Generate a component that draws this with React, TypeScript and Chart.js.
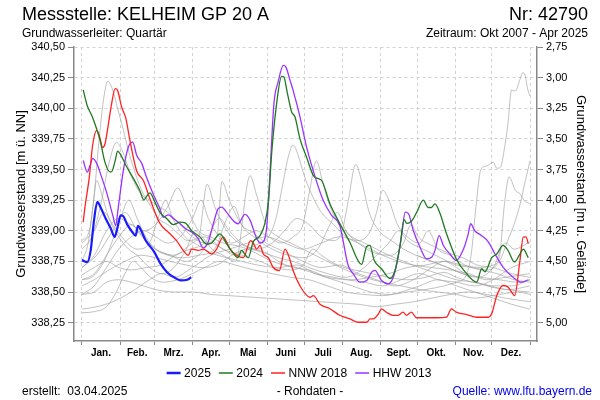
import React, { useEffect, useRef } from 'react';
import { Chart, registerables } from 'chart.js';

Chart.register(...registerables);

// ---- axes / labels ----
const monthStartDays = [0, 31, 59, 90, 120, 151, 181, 212, 243, 273, 304, 334, 365];
const monthLabels = ['Jan.', 'Feb.', 'Mrz.', 'Apr.', 'Mai', 'Juni', 'Juli', 'Aug.', 'Sept.', 'Okt.', 'Nov.', 'Dez.'];
const levelTicks = [338.25, 338.5, 338.75, 339.0, 339.25, 339.5, 339.75, 340.0, 340.25, 340.5];
const depthTicks = [2.75, 3.0, 3.25, 3.5, 3.75, 4.0, 4.25, 4.5, 4.75, 5.0];
const groundLevel = 343.25; // m ü. NN
const levelMin = 338.1;
const levelMax = 340.5;

// ---- highlighted series ----
const y2025Days = [0, 4.3, 7.1, 9.8, 12.5, 15.2, 19.3, 23.4, 26.6, 28.8, 31.5, 33.5, 36.9, 41, 43.7, 45.6, 47.8, 51.9, 58.7, 64.1, 69.5, 75, 80.4, 85.8, 89];
const y2025Vals = [338.76, 338.745, 338.84, 339.085, 339.235, 339.19, 339.1, 339.02, 338.95, 339.02, 339.126, 339.12, 339.05, 338.99, 338.96, 339.04, 339.01, 338.92, 338.83, 338.73, 338.66, 338.62, 338.595, 338.6, 338.62];

const y2024Days = [1, 4.3, 8, 14.7, 18.7, 22.8, 24, 27, 29, 31, 36.5, 42, 47, 50.5, 52.6, 55.4, 58.7, 63.5, 69, 74.4, 80, 84, 89.3, 96, 101.6, 105.6, 112.4, 118, 123, 127, 130, 132.7, 135.4, 139.5, 145, 149, 152, 154.5, 158.6, 162.6, 164.5, 167.2, 170.8, 173.5, 177.6, 183, 188.5, 192.6, 195.3, 202, 210, 218, 227.8, 231.9, 234.5, 238, 244, 250.9, 255, 259, 262.4, 264.6, 268.6, 272.7, 278, 282, 284.7, 287.6, 291.7, 297, 305, 313.4, 321.6, 325.6, 328.3, 333.8, 337.9, 343, 347, 352.5, 356.8, 359.5, 363.6];
const y2024Vals = [340.15, 340.02, 339.94, 339.74, 339.56, 339.48, 339.48, 339.57, 339.65, 339.63, 339.52, 339.425, 339.33, 339.25, 339.28, 339.31, 339.25, 339.15, 339.1, 339.05, 339.07, 339.065, 339.0, 338.95, 338.89, 338.9, 338.975, 338.89, 338.82, 338.78, 338.84, 338.81, 338.78, 338.91, 338.96, 339.06, 339.25, 339.63, 340.04, 340.26, 340.255, 340.13, 339.97, 339.93, 339.75, 339.6, 339.45, 339.425, 339.41, 339.22, 339.06, 338.91, 338.725, 338.87, 338.88, 338.76, 338.69, 338.61, 338.675, 338.87, 339.09, 339.06, 339.08, 339.15, 339.25, 339.19, 339.19, 339.22, 339.14, 338.975, 338.77, 338.65, 338.58, 338.69, 338.665, 338.78, 338.81, 338.88, 338.84, 338.745, 338.81, 338.85, 338.78];

const nnw2018Days = [1, 2.4, 6, 8.7, 12, 14, 16.9, 18.8, 21.5, 24.2, 27, 29, 32.3, 35.8, 39, 44.5, 50, 54, 58, 63.5, 71.7, 77, 82.5, 86.6, 89.3, 94.7, 98.8, 105.6, 109.7, 115, 120.6, 126, 131.4, 137.4, 139.5, 142.3, 145, 147.7, 151.8, 155.8, 160.8, 165.4, 168.9, 172, 177.6, 185.8, 188.5, 193.9, 202, 210, 218.3, 225, 232, 234.7, 237.4, 241.4, 244, 248, 253.4, 257.5, 261.6, 264.3, 268.4, 272.5, 280.7, 289, 297, 301, 305, 313.4, 321.6, 325.6, 331, 333.8, 337.9, 343, 347, 349.9, 352.5, 356.8, 359.5, 361.7, 363.6];
const nnw2018Vals = [339.07, 339.19, 339.44, 339.7, 339.82, 339.78, 339.68, 339.71, 339.87, 340.04, 340.16, 340.146, 340.01, 339.915, 339.74, 339.49, 339.41, 339.3, 339.19, 339.06, 338.975, 338.92, 338.84, 338.8, 338.85, 338.84, 338.85, 338.81, 338.85, 338.95, 338.85, 338.8, 338.78, 338.92, 338.9, 338.85, 338.88, 338.81, 338.78, 338.7, 338.675, 338.85, 338.78, 338.675, 338.55, 338.457, 338.47, 338.4, 338.363, 338.31, 338.28, 338.253, 338.253, 338.28, 338.28, 338.32, 338.363, 338.335, 338.31, 338.31, 338.335, 338.31, 338.335, 338.29, 338.29, 338.29, 338.295, 338.363, 338.335, 338.316, 338.294, 338.294, 338.294, 338.322, 338.47, 338.553, 338.54, 338.5, 338.47, 338.757, 338.948, 338.95, 338.894];

const hhw2013Days = [1, 4.3, 6.5, 8.7, 12, 16, 20, 25.5, 27.4, 29.6, 33.7, 37.8, 41.3, 44.6, 48.7, 52.5, 58, 63.5, 66.2, 70.3, 74.4, 80, 85.4, 89.3, 94.7, 98.8, 102.9, 107, 111, 113.8, 117.9, 123, 127.1, 132.8, 137, 141.8, 145, 147.7, 150.5, 153, 156.4, 159.8, 164, 166.2, 169.5, 172, 177.6, 183, 190, 196.5, 203.4, 210, 216.9, 221, 226.4, 232, 236, 238.7, 244, 249.5, 253.6, 257, 260.6, 263.3, 266, 270, 275.4, 280.8, 284.9, 287.6, 291, 294.4, 299.8, 305, 310.4, 314.7, 316.6, 320, 325.6, 331, 336.5, 343, 351.2, 358.2, 363.6];
const hhw2013Vals = [339.574, 339.479, 339.53, 339.588, 339.55, 339.438, 339.315, 339.11, 339.043, 339.193, 339.493, 339.683, 339.724, 339.615, 339.55, 339.438, 339.3, 339.18, 339.11, 339.13, 339.1, 339.057, 339.01, 338.99, 338.935, 338.86, 338.91, 339.057, 339.18, 339.193, 339.15, 339.085, 339.057, 339.133, 339.085, 338.95, 338.9, 338.91, 339.03, 339.438, 340.04, 340.214, 340.35, 340.336, 340.228, 340.146, 339.93, 339.683, 339.438, 339.248, 339.125, 339.043, 338.716, 338.649, 338.58, 338.594, 338.662, 338.676, 338.594, 338.567, 338.62, 338.757, 338.975, 339.152, 339.14, 339.0, 338.866, 338.771, 338.784, 338.84, 338.96, 338.88, 338.81, 338.757, 338.84, 338.975, 339.057, 339.0, 338.96, 338.91, 338.81, 338.703, 338.62, 338.58, 338.6];

// ---- other years (grey) ----
const g2007Days = [273, 285, 298, 310, 322, 335, 345, 352, 365];
const g2007Vals = [338.8, 338.75, 338.7, 338.65, 338.62, 338.7, 338.9, 338.85, 338.91];

const g2008Days = [0, 5, 9, 12, 16, 22, 30, 38, 45, 55, 65, 75, 85, 92, 98, 106, 115, 125, 137, 142, 150, 160, 170, 180, 190, 200, 215, 230, 245, 260, 275, 290, 305, 320, 340, 355, 365];
const g2008Vals = [338.75, 338.9, 339.2, 339.41, 339.3, 339.1, 338.95, 338.85, 338.8, 338.7, 338.65, 338.7, 338.85, 339.0, 338.95, 338.85, 338.8, 338.75, 339.45, 339.3, 339.05, 338.95, 338.9, 338.85, 338.8, 338.75, 338.68, 338.62, 338.58, 338.55, 338.52, 338.5, 338.48, 338.45, 338.48, 338.5, 338.48];

const g2009Days = [0, 10, 20, 30, 40, 50, 60, 70, 80, 90, 97, 103, 112, 122, 132, 142, 152, 162, 172, 180, 185, 191, 196, 202, 210, 220, 230, 240, 250, 262, 275, 290, 305, 320, 335, 350, 365];
const g2009Vals = [338.48, 338.55, 338.7, 338.85, 338.95, 339.0, 338.95, 338.9, 338.95, 339.1, 339.25, 339.1, 338.95, 338.9, 338.95, 339.0, 338.95, 338.9, 338.95, 339.05, 339.3, 339.57, 339.4, 339.2, 339.05, 338.95, 338.9, 338.85, 338.8, 338.75, 338.7, 338.65, 338.6, 338.58, 338.55, 338.55, 338.6];

const g2010Days = [0, 6, 10, 14, 18, 21, 25, 29, 33, 38, 44, 50, 56, 62, 70, 78, 86, 95, 102, 108, 118, 128, 140, 150, 160, 172, 185, 200, 215, 230, 245, 260, 275, 290, 305, 320, 335, 350, 365];
const g2010Vals = [338.92, 339.0, 339.3, 339.75, 340.1, 340.22, 340.15, 340.0, 339.85, 339.65, 339.45, 339.3, 339.2, 339.1, 339.05, 338.98, 338.92, 338.95, 339.38, 339.2, 339.0, 338.9, 338.85, 338.82, 338.75, 338.7, 338.68, 338.62, 338.6, 338.58, 338.55, 338.6, 338.65, 338.6, 338.58, 338.55, 338.6, 338.7, 338.75];

const g2011Days = [0, 8, 18, 26, 33, 38, 45, 52, 60, 70, 82, 95, 108, 118, 124, 130, 140, 155, 168, 180, 192, 202, 208, 215, 225, 238, 252, 262, 268, 274, 285, 298, 310, 322, 335, 350, 365];
const g2011Vals = [338.6, 338.62, 338.75, 338.95, 339.15, 339.25, 339.1, 338.95, 338.85, 338.8, 338.78, 338.8, 338.85, 339.1, 339.2, 339.05, 338.95, 338.85, 338.8, 338.78, 338.85, 339.05, 339.15, 339.0, 338.9, 338.82, 338.8, 338.9, 339.05, 338.95, 338.88, 338.82, 338.78, 338.72, 338.7, 338.65, 338.62];

const g2012Days = [0, 10, 20, 30, 40, 52, 64, 76, 88, 100, 112, 120, 130, 142, 155, 165, 175, 185, 195, 205, 212, 217, 223, 228, 234, 242, 252, 262, 272, 285, 298, 310, 325, 340, 355, 365];
const g2012Vals = [338.64, 338.7, 338.75, 338.7, 338.68, 338.7, 338.72, 338.8, 338.85, 338.9, 339.1, 339.0, 338.9, 338.85, 338.9, 339.0, 339.1, 339.05, 338.95, 338.92, 339.0, 339.25, 339.54, 339.4, 339.15, 339.0, 338.92, 338.85, 338.8, 338.75, 338.7, 338.65, 338.62, 338.6, 338.58, 338.6];

const g2014Days = [0, 10, 20, 30, 40, 50, 60, 72, 85, 95, 105, 115, 125, 135, 145, 152, 158, 163, 168, 172, 176, 181, 187, 195, 205, 215, 225, 235, 245, 258, 270, 285, 300, 315, 330, 345, 365];
const g2014Vals = [338.6, 338.65, 338.8, 338.95, 339.05, 338.95, 338.85, 338.8, 338.75, 338.8, 338.9, 338.85, 338.8, 338.85, 338.9, 338.95, 339.1, 339.35, 339.6, 339.7, 339.62, 339.45, 339.3, 339.15, 339.05, 338.95, 338.9, 338.85, 338.8, 338.75, 338.72, 338.7, 338.68, 338.65, 338.6, 338.62, 338.65];

const g2015Days = [0, 10, 20, 30, 40, 50, 60, 70, 78, 85, 95, 105, 115, 125, 135, 145, 155, 165, 175, 190, 205, 220, 235, 250, 265, 280, 295, 310, 325, 335, 340, 344, 348, 353, 357, 360, 365];
const g2015Vals = [338.7, 338.8, 339.0, 339.1, 339.05, 339.0, 339.05, 339.2, 339.35, 339.2, 339.0, 338.95, 338.9, 338.88, 338.85, 338.8, 338.75, 338.72, 338.7, 338.65, 338.62, 338.6, 338.62, 338.65, 338.7, 338.72, 338.75, 338.72, 338.7, 338.72, 338.78, 339.2, 339.44, 339.33, 339.3, 339.25, 339.22];

const g2016Days = [0, 10, 20, 28, 35, 42, 48, 56, 66, 78, 90, 100, 112, 125, 140, 155, 170, 185, 200, 215, 230, 245, 260, 275, 290, 305, 320, 335, 350, 365];
const g2016Vals = [338.33, 338.34, 338.38, 338.5, 338.65, 338.75, 338.7, 338.62, 338.58, 338.6, 338.65, 338.7, 338.75, 338.72, 338.68, 338.65, 338.62, 338.6, 338.55, 338.5, 338.48, 338.47, 338.5, 338.55, 338.6, 338.55, 338.5, 338.45, 338.4, 338.36];

const g2017Days = [0, 10, 20, 30, 40, 50, 60, 75, 90, 105, 120, 135, 150, 165, 180, 195, 210, 225, 240, 255, 270, 285, 300, 315, 330, 345, 365];
const g2017Vals = [338.48, 338.5, 338.58, 338.6, 338.58, 338.55, 338.52, 338.5, 338.5, 338.48, 338.47, 338.46, 338.45, 338.44, 338.43, 338.42, 338.41, 338.4, 338.38, 338.4, 338.42, 338.45, 338.48, 338.5, 338.48, 338.45, 338.42];

const g2019Days = [0, 12, 25, 40, 55, 65, 75, 90, 105, 120, 135, 150, 165, 180, 195, 210, 225, 235, 240, 245, 250, 257, 265, 275, 282, 290, 300, 312, 325, 338, 352, 365];
const g2019Vals = [338.36, 338.38, 338.42, 338.5, 338.6, 338.65, 338.62, 338.7, 338.8, 338.85, 338.9, 338.95, 338.9, 338.85, 338.9, 338.95, 338.92, 339.0, 339.15, 339.33, 339.25, 339.05, 338.95, 338.9, 339.0, 338.85, 338.8, 338.72, 338.68, 338.65, 338.6, 338.58];

const g2020Days = [0, 8, 15, 22, 28, 33, 40, 48, 55, 62, 70, 80, 90, 100, 110, 114, 120, 130, 140, 150, 160, 170, 180, 195, 210, 225, 240, 255, 270, 285, 295, 305, 318, 330, 345, 365];
const g2020Vals = [338.85, 338.95, 339.2, 339.55, 339.72, 339.65, 339.45, 339.3, 339.25, 339.2, 339.15, 339.05, 338.95, 338.9, 338.95, 339.4, 339.25, 339.05, 338.98, 338.9, 338.85, 338.8, 338.75, 338.7, 338.72, 338.65, 338.6, 338.55, 338.6, 338.7, 338.75, 338.7, 338.6, 338.55, 338.52, 338.5];

const g2021Days = [0, 10, 18, 25, 35, 45, 55, 62, 68, 74, 84, 95, 105, 118, 130, 143, 156, 170, 180, 188, 195, 208, 222, 236, 250, 265, 280, 295, 305, 318, 332, 348, 365];
const g2021Vals = [338.9, 339.0, 339.15, 339.05, 338.92, 338.85, 338.9, 339.1, 339.25, 339.1, 338.95, 338.88, 338.82, 338.78, 338.75, 338.72, 338.7, 338.68, 338.72, 338.85, 338.8, 338.72, 338.68, 338.65, 338.62, 338.6, 338.62, 338.66, 338.62, 338.58, 338.55, 338.52, 338.55];

const g2022Days = [0, 10, 22, 35, 48, 60, 72, 85, 98, 110, 122, 135, 148, 160, 172, 185, 200, 215, 230, 240, 250, 258, 265, 278, 292, 305, 318, 330, 340, 348, 352, 357, 361, 365];
const g2022Vals = [338.55, 338.6, 338.68, 338.75, 338.8, 338.78, 338.75, 338.72, 338.7, 338.72, 338.8, 338.85, 338.82, 338.78, 338.75, 338.7, 338.65, 338.62, 338.7, 338.8, 338.9, 339.0, 338.92, 338.85, 338.78, 338.72, 338.7, 338.68, 338.75, 338.95, 339.05, 339.22, 339.4, 339.57];

const g2023Days = [0, 12, 25, 35, 45, 60, 75, 90, 100, 115, 130, 145, 160, 175, 190, 205, 220, 235, 250, 265, 280, 295, 305, 312, 317, 321, 325, 330, 335, 338, 341, 344, 347, 350, 353, 357, 359, 361, 363, 365];
const g2023Vals = [338.7, 338.8, 339.0, 339.15, 339.0, 338.85, 338.8, 338.9, 338.95, 338.85, 338.8, 338.75, 338.7, 338.72, 338.65, 338.6, 338.55, 338.5, 338.48, 338.5, 338.52, 338.55, 338.58, 338.62, 338.8, 339.2, 339.5, 339.53, 339.56, 339.51, 339.52, 339.66, 339.87, 340.15, 340.14, 340.24, 340.29, 340.27, 340.16, 340.1];

const greyYears = [
  { label: '2007', days: g2007Days, vals: g2007Vals },
  { label: '2008', days: g2008Days, vals: g2008Vals },
  { label: '2009', days: g2009Days, vals: g2009Vals },
  { label: '2010', days: g2010Days, vals: g2010Vals },
  { label: '2011', days: g2011Days, vals: g2011Vals },
  { label: '2012', days: g2012Days, vals: g2012Vals },
  { label: '2014', days: g2014Days, vals: g2014Vals },
  { label: '2015', days: g2015Days, vals: g2015Vals },
  { label: '2016', days: g2016Days, vals: g2016Vals },
  { label: '2017', days: g2017Days, vals: g2017Vals },
  { label: '2019', days: g2019Days, vals: g2019Vals },
  { label: '2020', days: g2020Days, vals: g2020Vals },
  { label: '2021', days: g2021Days, vals: g2021Vals },
  { label: '2022', days: g2022Days, vals: g2022Vals },
  { label: '2023', days: g2023Days, vals: g2023Vals },
];

const highlighted = [
  { label: '2025', days: y2025Days, vals: y2025Vals, color: '#1a1aff', width: 2.2 },
  { label: '2024', days: y2024Days, vals: y2024Vals, color: '#1f7a1f', width: 1.3 },
  { label: 'NNW 2018', days: nnw2018Days, vals: nnw2018Vals, color: '#ff2222', width: 1.3 },
  { label: 'HHW 2013', days: hhw2013Days, vals: hhw2013Vals, color: '#9933ff', width: 1.3 },
];

const FONT = '"Liberation Sans", Arial, Helvetica, sans-serif';

const toPoints = (days: number[], vals: number[]) => days.map((d, i) => ({ x: d, y: vals[i] }));
const fmt = (v: number) => v.toFixed(2).replace('.', ',');
const monthMids = monthStartDays.slice(0, 12).map((d, i) => (d + monthStartDays[i + 1]) / 2);
const isBoundary = (v: number) => monthStartDays.includes(v);

const textPlugin = {
  id: 'texts',
  afterDraw(chart: any) {
    const ctx = chart.ctx as CanvasRenderingContext2D;
    ctx.save();
    ctx.fillStyle = '#000';
    ctx.textBaseline = 'middle';
    // header
    ctx.font = `18px ${FONT}`;
    ctx.textAlign = 'left';
    ctx.fillText('Messstelle: KELHEIM GP 20 A', 22, 15);
    ctx.textAlign = 'right';
    ctx.fillText('Nr: 42790', 588, 15);
    ctx.font = `12px ${FONT}`;
    ctx.textAlign = 'left';
    ctx.fillText('Grundwasserleiter: Quartär', 22, 33.5);
    ctx.textAlign = 'right';
    ctx.fillText('Zeitraum: Okt 2007 - Apr 2025', 588, 33.5);

    // legend
    ctx.font = `12px ${FONT}`;
    const lineLen = 14, gapIn = 3.5, gapOut = 8;
    const widths = highlighted.map((h) => lineLen + gapIn + ctx.measureText(h.label).width);
    const total = widths.reduce((a, b) => a + b, 0) + gapOut * (highlighted.length - 1);
    let x = 299 - total / 2;
    const ly = 373;
    highlighted.forEach((h, i) => {
      ctx.strokeStyle = h.color;
      ctx.lineWidth = h.width > 2 ? 2.5 : 1.5;
      ctx.beginPath();
      ctx.moveTo(x, ly);
      ctx.lineTo(x + lineLen, ly);
      ctx.stroke();
      ctx.fillStyle = '#000';
      ctx.textAlign = 'left';
      ctx.fillText(h.label, x + lineLen + gapIn, ly + 0.5);
      x += widths[i] + gapOut;
    });

    // footer
    ctx.font = `12px ${FONT}`;
    ctx.fillStyle = '#000';
    ctx.textAlign = 'left';
    ctx.fillText('erstellt:  03.04.2025', 22, 391.5);
    ctx.textAlign = 'center';
    ctx.fillText('- Rohdaten -', 310, 391.5);
    ctx.textAlign = 'right';
    ctx.fillStyle = '#0000ee';
    ctx.fillText('Quelle: www.lfu.bayern.de', 592, 391.5);
    ctx.restore();
  },
};

export default function App() {
  const canvasRef = useRef<HTMLCanvasElement | null>(null);

  useEffect(() => {
    if (!canvasRef.current) return;
    const datasets: any[] = [];
    highlighted.forEach((h) => {
      datasets.push({
        label: h.label,
        data: toPoints(h.days, h.vals),
        borderColor: h.color,
        borderWidth: h.width,
        pointRadius: 0,
        cubicInterpolationMode: 'monotone',
        fill: false,
      });
    });
    greyYears.forEach((g) => {
      datasets.push({
        label: g.label,
        data: toPoints(g.days, g.vals),
        borderColor: 'rgba(160,160,160,0.65)',
        borderWidth: 1,
        pointRadius: 0,
        cubicInterpolationMode: 'monotone',
        fill: false,
      });
    });

    const chart = new Chart(canvasRef.current, {
      type: 'line',
      data: { datasets },
      options: {
        responsive: false,
        animation: false,
        parsing: true,
        layout: { padding: { top: 47, bottom: 39, left: 0, right: 0 } },
        plugins: { legend: { display: false }, tooltip: { enabled: false } },
        font: { family: FONT },
        scales: {
          x: {
            type: 'linear',
            min: -6.5,
            max: 370.7,
            afterBuildTicks: (scale: any) => {
              const vals = [...monthStartDays, ...monthMids].sort((a, b) => a - b);
              scale.ticks = vals.map((v) => ({ value: v }));
            },
            afterFit: (scale: any) => { scale.height = 20; },
            ticks: {
              autoSkip: false,
              maxRotation: 0,
              minRotation: 0,
              padding: 2,
              color: '#000',
              font: { family: FONT, size: 10, weight: 'bold' },
              callback: (value: any) => {
                const idx = monthMids.indexOf(Number(value));
                return idx >= 0 ? monthLabels[idx] : '';
              },
            },
            grid: {
              color: (c: any) => (c.tick && isBoundary(c.tick.value) ? '#d2d2d2' : 'rgba(0,0,0,0)'),
              tickColor: (c: any) => (c.tick && isBoundary(c.tick.value) ? '#888' : 'rgba(0,0,0,0)'),
              tickLength: 4,
              lineWidth: 1,
            },
            border: { display: true, color: '#888', width: 1.5, dash: [3, 3] },
          },
          y: {
            type: 'linear',
            position: 'left',
            min: levelMin,
            max: levelMax,
            afterBuildTicks: (scale: any) => { scale.ticks = levelTicks.map((v) => ({ value: v })); },
            afterFit: (scale: any) => { scale.width = 74; },
            ticks: {
              color: '#000',
              padding: 3,
              font: { family: FONT, size: 11 },
              callback: (value: any) => fmt(Number(value)),
            },
            grid: { color: '#d2d2d2', tickColor: '#888', tickLength: 6, lineWidth: 1 },
            border: { display: true, color: '#888', width: 1.5, dash: [3, 3] },
            title: {
              display: true,
              text: 'Grundwasserstand [m ü. NN]',
              color: '#000',
              font: { family: FONT, size: 13 },
              padding: { top: 14, bottom: 0 },
            },
          },
          y2: {
            type: 'linear',
            position: 'right',
            reverse: true,
            min: groundLevel - levelMax,
            max: groundLevel - levelMin,
            afterBuildTicks: (scale: any) => { scale.ticks = depthTicks.map((v) => ({ value: v })); },
            afterFit: (scale: any) => { scale.width = 63; },
            ticks: {
              color: '#000',
              padding: 3,
              font: { family: FONT, size: 11 },
              callback: (value: any) => fmt(Number(value)),
            },
            grid: { drawOnChartArea: false, tickColor: '#888', tickLength: 6 },
            border: { display: true, color: '#888', width: 1.5 },
            title: {
              display: true,
              text: 'Grundwasserstand [m u. Gelände]',
              color: '#000',
              font: { family: FONT, size: 13 },
              padding: { top: 12, bottom: 0 },
            },
          },
        },
      } as any,
      plugins: [textPlugin],
    });
    return () => chart.destroy();
  }, []);

  return (
    <div style={{ position: 'absolute', left: 0, top: 0, width: 600, height: 400, background: '#fff' }}>
      <canvas ref={canvasRef} width={600} height={400} style={{ width: 600, height: 400, display: 'block' }} />
    </div>
  );
}
